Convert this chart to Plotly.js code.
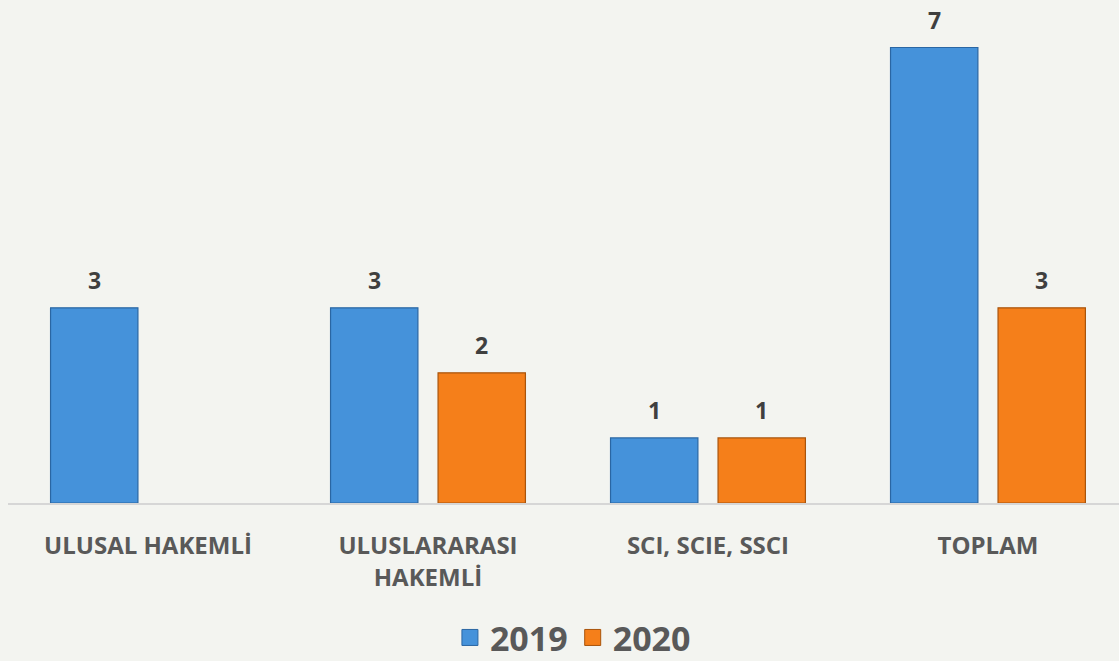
<!DOCTYPE html>
<html>
<head>
<meta charset="utf-8">
<script src="https://cdn.plot.ly/plotly-3.0.1.min.js"></script>
<style>html,body{margin:0;padding:0;background:#f3f4f0;}#chart{width:1119px;height:661px;}</style>
</head>
<body>
<div id="chart"></div>
<script>
const categories = ['ULUSAL HAKEMLİ', 'ULUSLARARASI<br>HAKEMLİ', 'SCI, SCIE, SSCI', 'TOPLAM'];
const seriesNames = ['2019', '2020'];
const values2019 = [3, 3, 1, 7];
const values2020 = [null, 2, 1, 3];

const barWidth = 0.312;
const offsets = [-0.348, 0.036];
const fills = ['#4592da', '#f57f1a'];
const edges = ['#2a66a3', '#a9540b'];
const allValues = [values2019, values2020];

const traces = allValues.map((vals, s) => ({
  type: 'bar',
  name: seriesNames[s],
  x: categories,
  y: vals,
  width: categories.map(() => barWidth),
  offset: categories.map(() => offsets[s]),
  marker: {color: fills[s], line: {color: edges[s], width: 1.2}},
  showlegend: false,
  hoverinfo: 'skip'
}));

// legend entries (larger square swatches than the bar legend symbol)
seriesNames.forEach((n, s) => {
  traces.push({
    type: 'scatter', mode: 'markers', name: n,
    x: [null], y: [null],
    marker: {symbol: 'square', size: 16, color: fills[s], line: {color: edges[s], width: 1}},
    showlegend: true, hoverinfo: 'skip'
  });
});

const annotations = [];
allValues.forEach((vals, s) => {
  vals.forEach((v, i) => {
    if (v === null) return;
    annotations.push({
      x: i + offsets[s] + barWidth / 2,
      y: v,
      xref: 'x', yref: 'y',
      text: String(v),
      showarrow: false,
      yanchor: 'middle',
      yshift: 28,
      font: {family: 'Open Sans', size: 23, color: '#3f3f3f', weight: 700}
    });
  });
});

const layout = {
  width: 1119, height: 661,
  paper_bgcolor: '#f3f4f0',
  plot_bgcolor: '#f3f4f0',
  margin: {l: 8, r: 0, t: 0, b: 158},
  barmode: 'overlay',
  xaxis: {
    type: 'category',
    range: [-0.5, 3.468],
    automargin: false,
    showgrid: false,
    zeroline: false,
    showline: true,
    linecolor: '#d6d6d6',
    linewidth: 1.5,
    ticks: '',
    ticklabelstandoff: 21,
    tickfont: {family: 'Open Sans', size: 24, color: '#595959', weight: 700}
  },
  yaxis: {
    range: [0, 7.73],
    automargin: false,
    visible: false,
    showgrid: false,
    zeroline: false
  },
  showlegend: true,
  legend: {
    orientation: 'h',
    xref: 'container', yref: 'container',
    x: 0.512, xanchor: 'center',
    y: 0.035, yanchor: 'middle',
    font: {family: 'Open Sans', size: 34, color: '#595959', weight: 700},
    itemsizing: 'trace',
    itemclick: false,
    bgcolor: 'rgba(0,0,0,0)'
  },
  annotations: annotations
};

Plotly.newPlot('chart', traces, layout, {displayModeBar: false, staticPlot: true});
</script>
</body>
</html>
